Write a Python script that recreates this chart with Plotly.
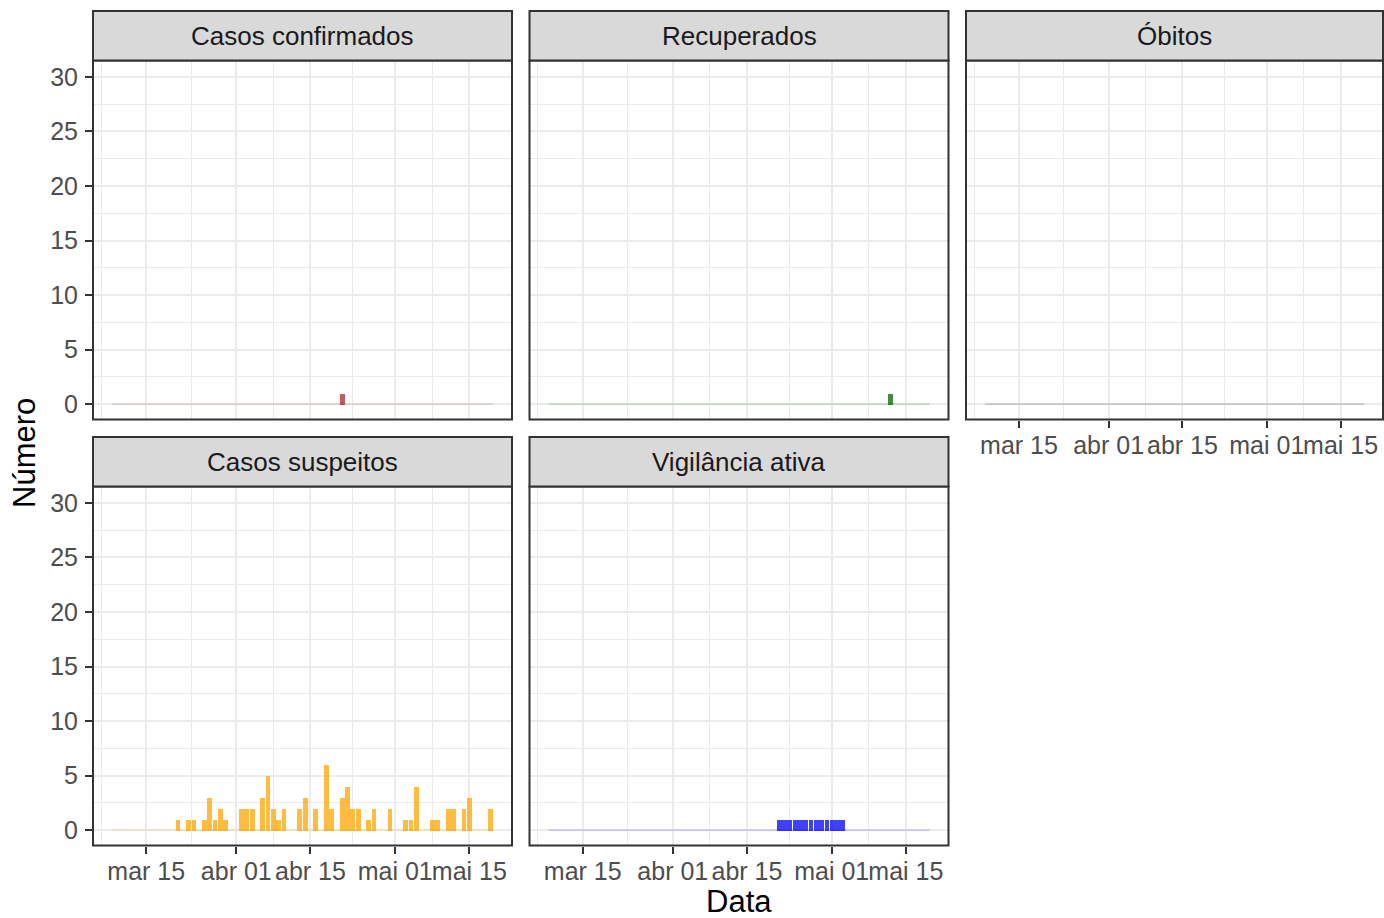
import plotly.graph_objects as go
import pandas as pd

W, H = 1384, 918

# ---------------- data ----------------
periodo_inicio = "2020-03-09"
periodo_fim = "2020-05-19"

confirmados_datas = ["2020-04-21"]
confirmados_valores = [1]

recuperados_datas = ["2020-05-12"]
recuperados_valores = [1]

obitos_datas = []
obitos_valores = []

suspeitos_datas = [
    "2020-03-21", "2020-03-23", "2020-03-24", "2020-03-26", "2020-03-27", "2020-03-28",
    "2020-03-29", "2020-03-30", "2020-04-02", "2020-04-03", "2020-04-04", "2020-04-06",
    "2020-04-07", "2020-04-08", "2020-04-09", "2020-04-10", "2020-04-13", "2020-04-14",
    "2020-04-16", "2020-04-18", "2020-04-19", "2020-04-21", "2020-04-22", "2020-04-23",
    "2020-04-24", "2020-04-26", "2020-04-27", "2020-04-30", "2020-05-03", "2020-05-04",
    "2020-05-05", "2020-05-08", "2020-05-09", "2020-05-11", "2020-05-12", "2020-05-14",
    "2020-05-15", "2020-05-19",
]
suspeitos_valores = [
    1, 1, 1, 1, 3, 1,
    2, 1, 2, 2, 2, 3,
    5, 2, 1, 2, 2, 3,
    2, 6, 2, 3, 4, 2,
    2, 1, 2, 2, 1, 1,
    4, 1, 1, 2, 2, 2,
    3, 2,
]

vigilancia_datas = [
    "2020-04-21", "2020-04-22", "2020-04-23", "2020-04-24", "2020-04-25", "2020-04-26",
    "2020-04-27", "2020-04-28", "2020-04-29", "2020-04-30", "2020-05-01", "2020-05-02",
    "2020-05-03",
]
vigilancia_valores = [1, 1, 1, 1, 1, 1, 1, 1, 1, 1, 1, 1, 1]

paineis = ["Casos confirmados", "Recuperados", "Óbitos", "Casos suspeitos", "Vigilância ativa"]

tick_datas = ["2020-03-15", "2020-04-01", "2020-04-15", "2020-05-01", "2020-05-15"]
tick_rotulos = ["mar 15", "abr 01", "abr 15", "mai 01", "mai 15"]
y_ticks = [0, 5, 10, 15, 20, 25, 30]
y_rotulos = ["0", "5", "10", "15", "20", "25", "30"]

# ---------------- styling ----------------
cores = [
    (165, 42, 42),
    (0, 100, 0),
    (0, 0, 0),
    (255, 165, 0),
    (0, 0, 255),
]
series = [
    (confirmados_datas, confirmados_valores),
    (recuperados_datas, recuperados_valores),
    (obitos_datas, obitos_valores),
    (suspeitos_datas, suspeitos_valores),
    (vigilancia_datas, vigilancia_valores),
]

# panel boxes in pixels: (x0, x1, y0_top, y1_bottom)
boxes = [
    (93, 512, 60.5, 419.5),
    (529.5, 948.5, 60.5, 419.5),
    (966, 1383, 60.5, 419.5),
    (93, 512, 486.5, 845.5),
    (529.5, 948.5, 486.5, 845.5),
]
strip_h = 49.5

DAY = pd.Timedelta(days=1)
meia = 0.45 * DAY
ini = pd.Timestamp(periodo_inicio) - meia
fim = pd.Timestamp(periodo_fim) + meia
pad = (fim - ini) * 0.05
x_range = [(ini - pad).isoformat(), (fim + pad).isoformat()]

# minor breaks (ggplot regular_minor_breaks)
tk = [pd.Timestamp(t) for t in tick_datas]
bd = tk[1] - tk[0]
ext = [tk[0] - bd] + tk + [tk[-1] + bd]
minor_x = [(a + (b - a) / 2).isoformat() for a, b in zip(ext[:-1], ext[1:])]
minor_y = [(a + b) / 2 for a, b in zip(y_ticks[:-1], y_ticks[1:])]

FONT = "Liberation Sans, Arial, Helvetica, sans-serif"
GRID = "#EBEBEB"
DARK = "#333333"

fig = go.Figure()
shapes = []
annotations = []

for i, (nome, (datas, vals), cor, box) in enumerate(zip(paineis, series, cores, boxes)):
    k = i + 1
    xa = "x" if k == 1 else f"x{k}"
    ya = "y" if k == 1 else f"y{k}"
    rgba = f"rgba({cor[0]},{cor[1]},{cor[2]},0.75)"
    faint = f"rgba({cor[0]},{cor[1]},{cor[2]},0.22)"
    # zero baseline (zero-height bars)
    fig.add_trace(go.Scatter(
        x=[ini, fim], y=[0, 0], mode="lines",
        line=dict(color=faint, width=1.2),
        xaxis=xa, yaxis=ya, showlegend=False, hoverinfo="skip",
    ))
    if len(datas):
        fig.add_trace(go.Bar(
            x=pd.to_datetime(datas), y=vals,
            width=0.9 * 86400000,
            marker=dict(color=rgba, line=dict(width=0)),
            xaxis=xa, yaxis=ya, showlegend=False,
        ))

    x0, x1, y0, y1 = box
    dom_x = [x0 / W, x1 / W]
    dom_y = [1 - y1 / H, 1 - y0 / H]
    show_x = k in (3, 4, 5)
    show_y = k in (1, 4)

    fig.layout[f"xaxis{'' if k == 1 else k}"] = dict(
        type="date", domain=dom_x, anchor=ya, range=x_range,
        tickmode="array", tickvals=tick_datas, ticktext=tick_rotulos,
        tickangle=0, automargin=False, ticklabelstandoff=-4,
        showticklabels=show_x, ticks="outside" if show_x else "",
        ticklen=7, tickwidth=2, tickcolor=DARK,
        tickfont=dict(family=FONT, size=25, color="#4D4D4D"),
        showgrid=True, gridcolor=GRID, gridwidth=2,
        minor=dict(tickmode="array", tickvals=minor_x, showgrid=True,
                   gridcolor=GRID, gridwidth=1, ticks=""),
        zeroline=False, showline=False, fixedrange=True,
    )
    fig.layout[f"yaxis{'' if k == 1 else k}"] = dict(
        domain=dom_y, anchor=xa, range=[-1.4, 31.5],
        tickmode="array", tickvals=y_ticks, ticktext=y_rotulos,
        automargin=False, ticklabelstandoff=2,
        showticklabels=show_y, ticks="outside" if show_y else "",
        ticklen=7, tickwidth=2, tickcolor=DARK,
        tickfont=dict(family=FONT, size=25, color="#4D4D4D"),
        showgrid=True, gridcolor=GRID, gridwidth=2,
        minor=dict(tickmode="array", tickvals=minor_y, showgrid=True,
                   gridcolor=GRID, gridwidth=1, ticks=""),
        zeroline=False, showline=False, fixedrange=True,
    )

    # panel border
    shapes.append(dict(type="rect", xref="paper", yref="paper",
                       x0=x0 / W, x1=x1 / W, y0=1 - y1 / H, y1=1 - y0 / H,
                       line=dict(color=DARK, width=2), fillcolor="rgba(0,0,0,0)", layer="above"))
    # strip
    sy0 = y0 - strip_h
    shapes.append(dict(type="rect", xref="paper", yref="paper",
                       x0=x0 / W, x1=x1 / W, y0=1 - y0 / H, y1=1 - sy0 / H,
                       line=dict(color=DARK, width=2), fillcolor="#D9D9D9", layer="above"))
    annotations.append(dict(text=nome, xref="paper", yref="paper",
                            x=(x0 + x1) / 2 / W, y=1 - (sy0 + y0) / 2 / H,
                            xanchor="center", yanchor="middle", showarrow=False,
                            font=dict(family=FONT, size=26, color="#1A1A1A")))

annotations.append(dict(text="Número", xref="paper", yref="paper",
                        x=24 / W, y=1 - 453 / H, textangle=-90,
                        xanchor="center", yanchor="middle", showarrow=False,
                        font=dict(family=FONT, size=31, color="#000000")))
annotations.append(dict(text="Data", xref="paper", yref="paper",
                        x=738.5 / W, y=1 - 901 / H,
                        xanchor="center", yanchor="middle", showarrow=False,
                        font=dict(family=FONT, size=31, color="#000000")))

fig.update_layout(
    width=W, height=H,
    margin=dict(l=0, r=0, t=0, b=0),
    paper_bgcolor="white", plot_bgcolor="white",
    shapes=shapes, annotations=annotations,
    showlegend=False, bargap=0,
)

fig.write_html(
    "out.html",
    config={"displayModeBar": False},
    post_script="document.body.style.margin='0';document.body.style.overflow='hidden';",
)
